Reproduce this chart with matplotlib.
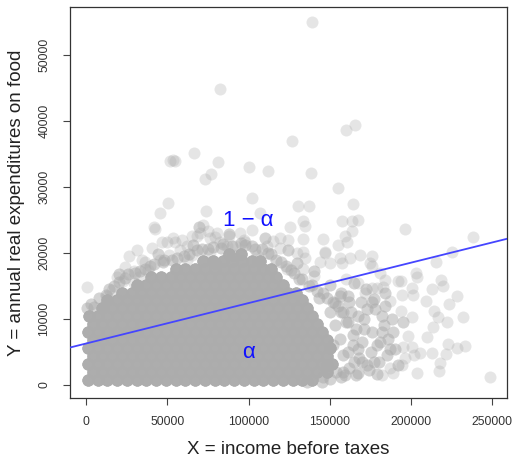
import numpy as np
import matplotlib
matplotlib.use("Agg")
import matplotlib.pyplot as plt

# ---------------- data (x, y in thousands of dollars) ----------------
# dense core of the cloud: one row of points per y level, weight = overlapping households
core_row_y = [0.8, 2.0, 3.2, 4.4, 5.6, 6.8, 8.0, 9.2, 10.4, 11.6, 12.8, 14.0, 15.2, 16.4, 17.6, 18.8, 19.9]
core_row_x = [
    [1, 7, 13, 19, 25, 31, 37, 43, 49, 55, 61, 67, 73, 79, 85, 91, 97, 103, 109, 115, 121, 127, 133, 139],
    [4, 10, 16, 22, 28, 34, 40, 46, 52, 58, 64, 70, 76, 82, 88, 94, 100, 106, 112, 118, 124, 130, 136, 142, 148],
    [1, 7, 13, 19, 25, 31, 37, 43, 49, 55, 61, 67, 73, 79, 85, 91, 97, 103, 109, 115, 121, 127, 133, 139, 145, 151],
    [4, 10, 16, 22, 28, 34, 40, 46, 52, 58, 64, 70, 76, 82, 88, 94, 100, 106, 112, 118, 124, 130, 136, 142, 148],
    [1, 7, 13, 19, 25, 31, 37, 43, 49, 55, 61, 67, 73, 79, 85, 91, 97, 103, 109, 115, 121, 127, 133, 139, 145, 150],
    [4, 10, 16, 22, 28, 34, 40, 46, 52, 58, 64, 70, 76, 82, 88, 94, 100, 106, 112, 118, 124, 130, 136, 142, 148],
    [1, 7, 13, 19, 25, 31, 37, 43, 49, 55, 61, 67, 73, 79, 85, 91, 97, 103, 109, 115, 121, 127, 133, 139, 145],
    [4, 10, 16, 22, 28, 34, 40, 46, 52, 58, 64, 70, 76, 82, 88, 94, 100, 106, 112, 118, 124, 130, 136, 142],
    [2, 7, 13, 19, 25, 31, 37, 43, 49, 55, 61, 67, 73, 79, 85, 91, 97, 103, 109, 115, 121, 127, 133, 139],
    [10, 16, 22, 28, 34, 40, 46, 52, 58, 64, 70, 76, 82, 88, 94, 100, 106, 112, 118, 124, 130, 136],
    [13, 19, 25, 31, 37, 43, 49, 55, 61, 67, 73, 79, 85, 91, 97, 103, 109, 115, 121, 127, 133],
    [22, 28, 34, 40, 46, 52, 58, 64, 70, 76, 82, 88, 94, 100, 106, 112, 118, 124, 129],
    [31, 37, 43, 49, 55, 61, 67, 73, 79, 85, 91, 97, 103, 109, 115, 121],
    [40, 46, 52, 58, 64, 70, 76, 82, 88, 94, 100, 106, 112, 117],
    [55, 61, 67, 73, 79, 85, 91, 97, 103, 109, 114],
    [72, 78, 84, 90, 96, 102, 107],
    [88, 95],
]
core_weight = 10

# half-dense ring just outside the core
ring_x = [0.5, 3, 8, 14, 20, 26, 33, 39, 47, 53, 60, 68, 75, 83, 90, 98, 104, 112, 117, 123, 128, 133, 139, 146,
          152, 157, 161, 164, 167, 170, 158, 150, 145, 136, 143, 130,
          5, 12, 17, 24, 30, 36, 42, 48, 56, 63, 71, 78, 84, 95, 102, 108, 114, 120, 126, 131, 137, 142, 148,
          153, 124, 110, 88, 66, 44, 20, 140, 150]
ring_y = [11.6, 12.2, 13.2, 14.6, 15.6, 16.8, 17.2, 18.0, 18.6, 19.0, 19.6, 20.4, 20.6, 20.8, 21.0, 21.2, 20.6, 20.0,
          19.0, 18.0, 17.0, 16.0, 15.2, 14.0, 12.6, 11.0, 9.5, 7.5, 5.5, 3.5, 2.0, 0.9, 0.5, 0.4, 13.2, 18.5,
          11.8, 13.6, 15.0, 16.2, 16.9, 17.6, 18.3, 18.9, 19.2, 19.9, 20.6, 20.9, 21.3, 21.5, 21.0, 20.6, 19.8,
          18.6, 17.4, 16.0, 15.0, 14.2, 13.2, 12.4, 20.5, 22.2, 22.8, 21.2, 19.8, 16.8, 17.2, 15.2]
ring_weight = 2

# right-hand transition region (moderately dense)
trans_x = [154, 158, 156, 160, 155, 162, 164, 166, 163, 168, 170, 171, 169, 174, 175, 176, 178, 180, 181, 183,
           185, 186, 188, 190, 184, 172, 157, 161, 165, 173, 177, 159, 167, 179, 182,
           152, 153, 158, 161, 165, 167, 171, 173, 177, 179, 182, 187, 189, 192, 195, 156, 162, 150, 148, 146,
           157, 166, 176, 184]
trans_y = [2.0, 4.5, 7.0, 9.5, 12.0, 2.5, 6.0, 8.5, 11.0, 4.0, 6.5, 10.0, 12.5, 2.2, 5.0, 8.0, 11.5, 3.5, 6.5, 9.0,
           4.5, 7.0, 10.0, 5.5, 12.0, 14.5, 14.0, 13.5, 15.5, 3.0, 13.0, 1.5, 1.8, 1.6, 8.0,
           6.0, 9.0, 11.0, 5.0, 3.5, 10.5, 8.5, 11.5, 3.5, 6.0, 10.5, 5.5, 8.0, 3.0, 9.5, 13.5, 12.5, 11.0, 3.0,
           1.2, 1.2, 1.5, 12.5, 14.0]
trans_weight = 2

# individually visible households (fringe and outliers)
single_x = [0.4, 10.3, 12.7, 15.8, 18.9, 22.9, 26.6, 31.2, 34.3, 38.3, 40.4, 45.1, 46.6, 54.7, 51.2, 57.8, 61.9,
            65.0, 68.1, 69.1, 75.2, 80.4, 82.4, 86.5, 90.6, 76.3, 79.3, 29.1, 32.2, 49.6, 53.7, 58.8, 65.0, 79.3,
            94.7, 101.9, 29.1, 96.8, 76.3, 70.1, 91.6, 111.1, 119.3, 155.2, 160.3, 147.0, 156.2, 129.6, 134.7,
            105.0, 106.0, 124.4, 163.4, 133.6, 119.3, 146.0, 159.3, 133.6, 147.0, 150.0, 157.2, 144.0, 133.6,
            123.4, 168.5, 175.7, 174.7, 162.4, 175.7, 180.8, 183.9, 192.1, 182.8, 178.8, 175.7, 167.5, 171.6,
            82.4, 51.7, 53.2, 54.7, 66.6, 81.4, 73.2, 76.7, 100.4, 102.3, 50.2, 45.5, 73.8, 41.8, 138.8, 159.7,
            165.6, 126.9, 138.4, 112.1, 155.0, 130.6, 137.3, 164.4, 163.4, 167.5, 133.6, 107.0, 196.2, 125.5,
            42.4, 69.7, 72.1, 134.7, 157.2,
            238.2, 224.9, 215.3, 203.0, 203.7, 193.7, 218.3, 219.4, 212.6, 200.3, 201.3, 209.1, 228.0, 223.4,
            194.1, 200.3, 214.2, 216.7, 231.7, 221.8, 213.2, 233.1, 228.0, 222.8, 221.4, 217.7, 217.3, 248.5,
            209.9, 203.8, 196.2, 201.7, 205.4, 198.0, 200.3, 195.1, 194.1, 187.0, 189.0, 181.9, 193.7, 187.0,
            212.6, 140.0, 160.0, 115.0, 98.0, 88.0, 62.0, 36.0, 24.0]
single_y = [14.8, 11.8, 13.4, 14.4, 16.4, 15.7, 19.6, 20.4, 19.0, 17.4, 20.7, 19.0, 21.6, 21.7, 19.7, 20.5, 19.0,
            19.7, 22.5, 24.0, 23.3, 23.0, 21.7, 21.0, 19.7, 20.0, 18.5, 17.2, 16.4, 21.6, 22.2, 21.9, 22.6, 22.4,
            23.0, 23.5, 15.4, 22.0, 22.25, 23.0, 21.0, 21.0, 20.7, 21.2, 21.7, 20.0, 19.2, 20.0, 19.2,
            19.7, 19.0, 22.0, 23.3, 22.1, 22.25, 22.1, 22.5, 20.2, 20.2, 18.5, 18.5, 18.7, 17.5,
            17.5, 19.7, 19.5, 18.5, 19.2, 18.0, 17.0, 15.9, 15.7, 14.8, 14.7, 14.7, 15.4, 13.9,
            44.9, 33.9, 34.1, 34.0, 35.1, 33.8, 31.25, 32.0, 33.1, 28.4, 27.65, 26.1, 26.4, 23.9, 55.1, 38.7,
            39.4, 37.05, 32.1, 32.5, 29.8, 27.05, 27.05, 27.45, 24.9, 25.0, 24.8, 26.05, 23.6, 23.9,
            23.6, 23.9, 24.3, 24.1, 24.8,
            22.35, 20.07, 18.7, 17.0, 16.3, 15.7, 15.9, 15.0, 14.5, 14.7, 13.65, 12.64, 13.4, 12.29,
            13.65, 10.36, 11.23, 10.36, 10.27, 9.5, 8.7, 5.9, 5.57, 6.22, 4.66, 3.38, 2.02, 1.26,
            7.24, 1.77, 4.05, 4.55, 4.8, 7.33, 5.81, 5.81, 3.03, 2.53, 1.77, 1.52, 11.12, 12.64,
            4.8, 16.5, 16.0, 21.8, 21.6, 22.6, 21.0, 18.6, 17.8]

# fitted quantile regression line: food = b0 + b1 * income
b0 = 6270.0
b1 = 0.0613

x_ticks = [0, 50000, 100000, 150000, 200000, 250000]
y_ticks = [0, 10000, 20000, 30000, 40000, 50000]
x_label = "X = income before taxes"
y_label = "Y = annual real expenditures on food"
label_upper = "1 \u2212 \u03b1"
label_lower = "\u03b1"
label_upper_pos = (100000, 24900)
label_lower_pos = (99800, 4900)

# ---------------- assemble points ----------------
xs, ys, ws = [], [], []
for yv, row in zip(core_row_y, core_row_x):
    for xv in row:
        xs.append(xv); ys.append(yv); ws.append(core_weight)
for xv, yv in zip(ring_x, ring_y):
    xs.append(xv); ys.append(yv); ws.append(ring_weight)
for xv, yv in zip(trans_x, trans_y):
    xs.append(xv); ys.append(yv); ws.append(trans_weight)
for xv, yv in zip(single_x, single_y):
    xs.append(xv); ys.append(yv); ws.append(1)
px = np.repeat(np.array(xs) * 1000.0, ws)
py = np.repeat(np.array(ys) * 1000.0, ws)

# ---------------- plot ----------------
plt.rcParams['font.family'] = ['Liberation Sans', 'DejaVu Sans']
fig = plt.figure(figsize=(5.14, 4.59), dpi=100)
ax = fig.add_axes([70 / 514, 61 / 459, 437 / 514, 391 / 459])

ax.scatter(px, py, s=75, c='#acacac', alpha=0.3, linewidths=0, zorder=2)
ax.axline((0, b0), slope=b1, color='#4545ff', lw=1.3, zorder=3)

ax.text(*label_upper_pos, label_upper, color='#1010ff', fontsize=16, ha='center', va='center', zorder=4)
ax.text(*label_lower_pos, label_lower, color='#1010ff', fontsize=16, ha='center', va='center', zorder=4)

ax.set_xlim(-10000, 259000)
ax.set_ylim(-2000, 57300)
ax.set_xticks(x_ticks)
ax.set_xticklabels([str(t) for t in x_ticks])
ax.set_yticks(y_ticks)
ax.set_yticklabels([str(t) for t in y_ticks], rotation=90, va='center')
ax.tick_params(axis='both', length=5, width=0.8, color='#444444', labelsize=8.7, labelcolor='#333333')
ax.tick_params(axis='x', pad=8)
ax.tick_params(axis='y', pad=9)
for sp in ax.spines.values():
    sp.set_color('#333333')
    sp.set_linewidth(0.9)
ax.set_xlabel(x_label, fontsize=13.5, color='#222222', labelpad=9)
ax.set_ylabel(y_label, fontsize=13.5, color='#222222', labelpad=10)

fig.savefig("out.png", dpi=100)
